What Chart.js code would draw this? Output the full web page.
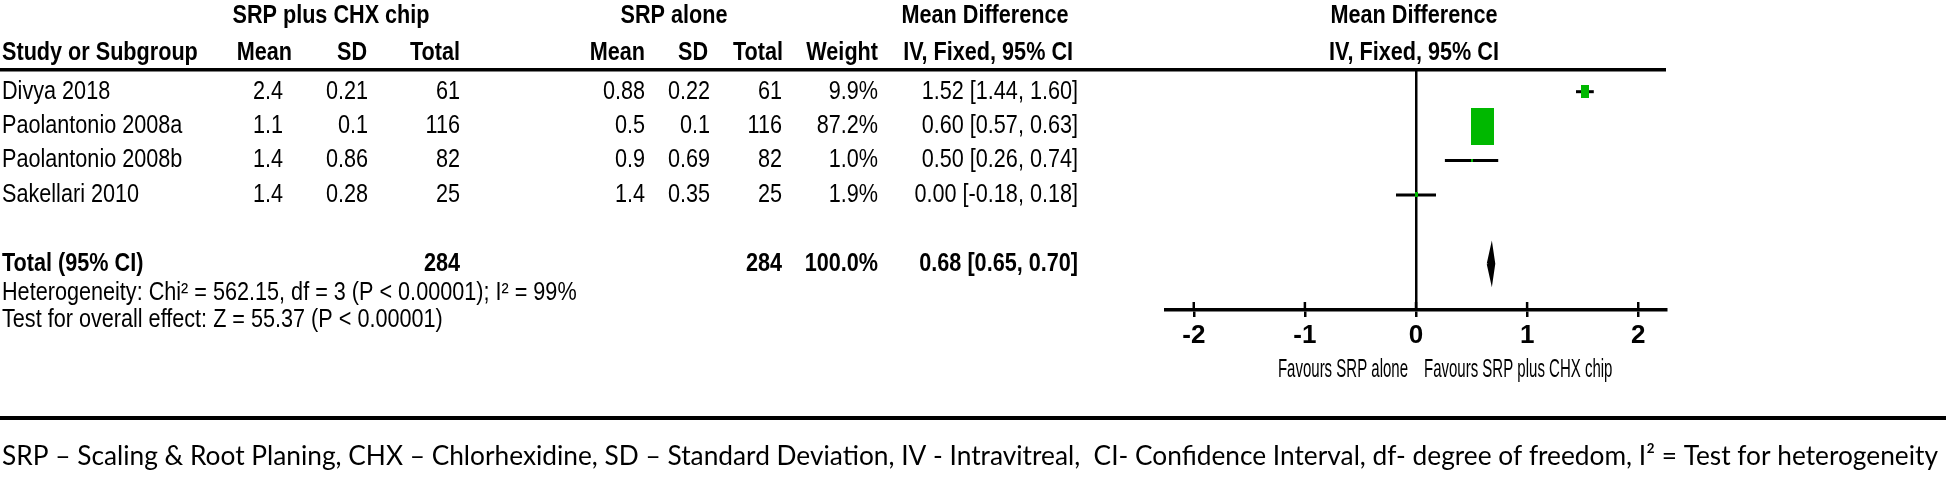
<!DOCTYPE html>
<html>
<head>
<meta charset="utf-8">
<script src="https://cdn.jsdelivr.net/npm/chart.js@4.4.0/dist/chart.umd.min.js"></script>
<style>
  html, body { margin: 0; padding: 0; background: #fff; }
  #wrap { width: 1946px; height: 477px; }
</style>
</head>
<body>
<div id="wrap"><canvas id="forest" width="1946" height="477"></canvas></div>
<script>
// ---- data ----
const studies  = ['Divya 2018', 'Paolantonio 2008a', 'Paolantonio 2008b', 'Sakellari 2010'];
const chipMean = [2.4, 1.1, 1.4, 1.4];
const chipSD   = [0.21, 0.1, 0.86, 0.28];
const chipN    = [61, 116, 82, 25];
const srpMean  = [0.88, 0.5, 0.9, 1.4];
const srpSD    = [0.22, 0.1, 0.69, 0.35];
const srpN     = [61, 116, 82, 25];
const weights  = [9.9, 87.2, 1.0, 1.9];
const md       = [1.52, 0.60, 0.50, 0.00];
const mdLow    = [1.44, 0.57, 0.26, -0.18];
const mdHigh   = [1.60, 0.63, 0.74, 0.18];

const totalN1 = 284, totalN2 = 284, totalWeight = 100.0;
const totalMd = 0.68, totalLow = 0.65, totalHigh = 0.70;

const xTicks = [-2, -1, 0, 1, 2];
const heterogeneityText = 'Heterogeneity: Chi\u00B2 = 562.15, df = 3 (P < 0.00001); I\u00B2 = 99%';
const overallText = 'Test for overall effect: Z = 55.37 (P < 0.00001)';
const favoursLeft = 'Favours SRP alone';
const favoursRight = 'Favours SRP plus CHX chip';
const footnote = 'SRP \u2013 Scaling & Root Planing, CHX \u2013 Chlorhexidine, SD \u2013 Standard Deviation, IV - Intravitreal,  CI- Confidence Interval, df- degree of freedom, I\u00B2 = Test for heterogeneity';

// ---- layout ----
const GREEN = '#00b800';
const TOTAL_ROW = 5;
const FONT = '"Liberation Sans", Arial, sans-serif';
const FS = 25, SX = 0.865;

// square size ~ sqrt(weight)
function makeBox(w) {
    const bw = Math.max(2, Math.round(24.6 * Math.sqrt(w / 100)));
    const bh = Math.max(3, Math.round(bw * 1.6));
    const c = document.createElement('canvas');
    c.width = bw; c.height = bh;
    const g = c.getContext('2d');
    g.fillStyle = GREEN;
    g.fillRect(0, 0, bw, bh);
    return c;
}

function fmtCI(m, l, h) {
    return m.toFixed(2) + ' [' + l.toFixed(2) + ', ' + h.toFixed(2) + ']';
}

function txt(ctx, s, x, y, align, bold, size, sx) {
    ctx.save();
    ctx.font = (bold ? 'bold ' : '') + (size || FS) + 'px ' + FONT;
    ctx.fillStyle = '#000';
    ctx.textBaseline = 'middle';
    ctx.textAlign = align;
    ctx.translate(x, y);
    ctx.scale(sx || SX, 1);
    ctx.fillText(s, 0, 0);
    ctx.restore();
}

// tick stubs above the axis line
const tickStubs = {
    id: 'tickStubs',
    afterDatasetsDraw(chart) {
        const ctx = chart.ctx, xs = chart.scales.x, b = chart.chartArea.bottom;
        ctx.save();
        ctx.strokeStyle = '#000';
        ctx.lineWidth = 2.5;
        xTicks.forEach(v => {
            const px = xs.getPixelForValue(v);
            ctx.beginPath();
            ctx.moveTo(px, b - 8);
            ctx.lineTo(px, b);
            ctx.stroke();
        });
        ctx.restore();
    }
};

// table text, header line, footnote
const tablePlugin = {
    id: 'tableText',
    afterDraw(chart) {
        const ctx = chart.ctx;
        const ys = chart.scales.y, xs = chart.scales.x;
        const area = chart.chartArea;

        // header line
        ctx.save();
        ctx.fillStyle = '#000';
        ctx.fillRect(0, area.top - 2, area.right, 3.5);
        // line above footnote
        ctx.fillRect(0, 416, 1946, 4);
        ctx.restore();

        // header rows
        const h1 = 16, h2 = 53;
        txt(ctx, 'SRP plus CHX chip', 331, h1, 'center', true);
        txt(ctx, 'SRP alone', 674, h1, 'center', true);
        txt(ctx, 'Mean Difference', 985, h1, 'center', true);
        txt(ctx, 'Mean Difference', 1414, h1, 'center', true);
        txt(ctx, 'Study or Subgroup', 2, h2, 'left', true);
        txt(ctx, 'Mean', 292, h2, 'right', true);
        txt(ctx, 'SD', 367, h2, 'right', true);
        txt(ctx, 'Total', 460, h2, 'right', true);
        txt(ctx, 'Mean', 645, h2, 'right', true);
        txt(ctx, 'SD', 708, h2, 'right', true);
        txt(ctx, 'Total', 783, h2, 'right', true);
        txt(ctx, 'Weight', 878, h2, 'right', true);
        txt(ctx, 'IV, Fixed, 95% CI', 1073, h2, 'right', true);
        txt(ctx, 'IV, Fixed, 95% CI', 1414, h2, 'center', true);

        // study rows
        studies.forEach((s, i) => {
            const y = ys.getPixelForValue(i);
            txt(ctx, s, 2, y, 'left', false);
            txt(ctx, String(chipMean[i]), 283, y, 'right', false);
            txt(ctx, String(chipSD[i]), 368, y, 'right', false);
            txt(ctx, String(chipN[i]), 460, y, 'right', false);
            txt(ctx, String(srpMean[i]), 645, y, 'right', false);
            txt(ctx, String(srpSD[i]), 710, y, 'right', false);
            txt(ctx, String(srpN[i]), 782, y, 'right', false);
            txt(ctx, weights[i].toFixed(1) + '%', 878, y, 'right', false);
            txt(ctx, fmtCI(md[i], mdLow[i], mdHigh[i]), 1078, y, 'right', false);
        });

        // total row
        const yt = ys.getPixelForValue(TOTAL_ROW);
        txt(ctx, 'Total (95% CI)', 2, yt, 'left', true);
        txt(ctx, String(totalN1), 460, yt, 'right', true);
        txt(ctx, String(totalN2), 782, yt, 'right', true);
        txt(ctx, totalWeight.toFixed(1) + '%', 878, yt, 'right', true);
        txt(ctx, fmtCI(totalMd, totalLow, totalHigh), 1078, yt, 'right', true);

        txt(ctx, heterogeneityText, 2, 293, 'left', false);
        txt(ctx, overallText, 2, 320, 'left', false);

        // favours labels around zero
        const x0 = xs.getPixelForValue(0);
        txt(ctx, favoursLeft, x0 - 8, 370, 'right', false, 25, 0.6);
        txt(ctx, favoursRight, x0 + 8, 370, 'left', false, 25, 0.6);

        // footnote, stretched to the full width
        ctx.save();
        ctx.font = '26px Lato, "Open Sans", sans-serif';
        ctx.fillStyle = '#000';
        ctx.textBaseline = 'middle';
        ctx.textAlign = 'left';
        const fw = ctx.measureText(footnote).width;
        ctx.translate(2, 457);
        ctx.scale(1936 / fw, 1);
        ctx.fillText(footnote, 0, 0);
        ctx.restore();
    }
};

// ---- datasets ----
const ciSets = studies.map((s, i) => ({
    label: s,
    data: [{ x: mdLow[i], y: i }, { x: mdHigh[i], y: i }],
    showLine: true,
    borderColor: '#000',
    borderWidth: 3,
    pointRadius: 0,
    order: 3
}));

const boxSet = {
    label: 'weights',
    data: md.map((v, i) => ({ x: v, y: i })),
    pointStyle: weights.map(makeBox),
    pointRadius: 6,
    order: 1
};

const dh = 0.44; // diamond half height, in rows
const diamondSet = {
    label: 'total',
    data: [
        { x: totalLow, y: TOTAL_ROW },
        { x: totalMd, y: TOTAL_ROW - dh },
        { x: totalHigh, y: TOTAL_ROW },
        { x: totalMd, y: TOTAL_ROW + dh },
        { x: totalLow, y: TOTAL_ROW }
    ],
    showLine: true,
    tension: 0,
    fill: 'shape',
    backgroundColor: '#000',
    borderColor: '#000',
    borderWidth: 3,
    pointRadius: 0,
    order: 1
};

const ctx = document.getElementById('forest').getContext('2d');
const forestChart = new Chart(ctx, {
    type: 'scatter',
    data: { datasets: [...ciSets, boxSet, diamondSet] },
    options: {
        responsive: false,
        devicePixelRatio: 1,
        animation: false,
        events: [],
        layout: { padding: { left: 1166, right: 280, top: 70, bottom: 128 } },
        plugins: { legend: { display: false }, tooltip: { enabled: false } },
        scales: {
            x: {
                type: 'linear',
                min: -2.25,
                max: 2.25,
                afterBuildTicks: s => { s.ticks = xTicks.map(v => ({ value: v })); },
                afterFit: s => { s.height = 39; },
                border: { display: true, color: '#000', width: 3.5 },
                grid: {
                    drawOnChartArea: true,
                    color: c => (c.tick && c.tick.value === 0) ? '#000' : 'rgba(0,0,0,0)',
                    lineWidth: 2.5,
                    tickColor: '#000',
                    tickWidth: 2.5,
                    tickLength: 7
                },
                ticks: {
                    color: '#000',
                    font: { family: 'Liberation Sans', size: 26, weight: 'bold' },
                    padding: 3,
                    maxRotation: 0,
                    autoSkip: false
                }
            },
            y: {
                type: 'linear',
                display: false,
                reverse: true,
                min: -0.63,
                max: 6.34
            }
        }
    },
    plugins: [tickStubs, tablePlugin]
});
</script>
</body>
</html>
